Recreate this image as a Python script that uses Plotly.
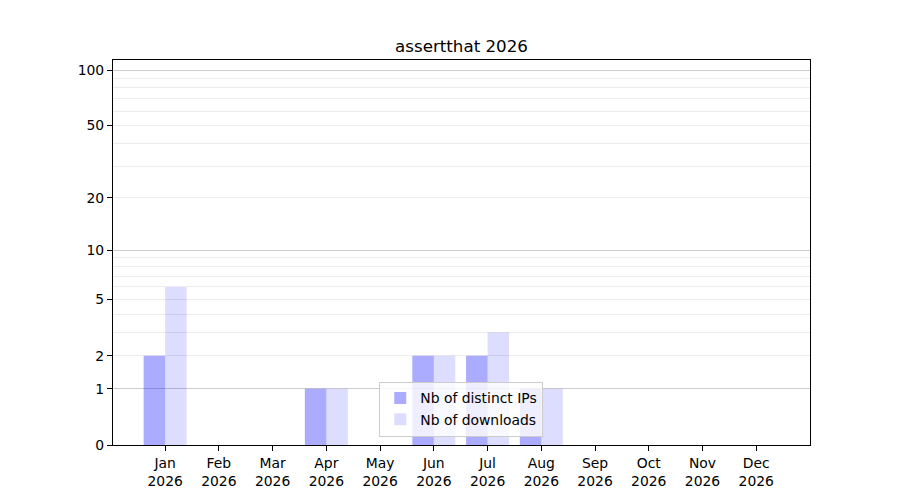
import numpy as np
import plotly.graph_objects as go

months = ["Jan", "Feb", "Mar", "Apr", "May", "Jun", "Jul", "Aug", "Sep", "Oct", "Nov", "Dec"]
year = "2026"
distinct_ips = [2, 0, 0, 1, 0, 2, 2, 1, 0, 0, 0, 0]
downloads = [6, 0, 0, 1, 0, 2, 3, 1, 0, 0, 0, 0]
y_ticks = [0, 1, 2, 5, 10, 20, 50, 100]
y_minor = [3, 4, 6, 7, 8, 9, 30, 40, 60, 70, 80, 90]
y_major_grid = [1, 10, 100]


def scale(v):
    # log(1 + x) scale, like the original y axis
    return np.log10(1 + np.asarray(v, dtype=float))


x = np.arange(len(months))
font = "DejaVu Sans"

fig = go.Figure()
fig.add_trace(go.Bar(
    x=x, y=scale(distinct_ips), width=0.4, offset=-0.4,
    name="Nb of distinct IPs", marker=dict(color="rgba(0,0,255,0.33)", line_width=0),
))
fig.add_trace(go.Bar(
    x=x, y=scale(downloads), width=0.4, offset=0,
    name="Nb of downloads", marker=dict(color="rgba(0,0,255,0.135)", line_width=0),
))
# invisible trace to carry the darker major grid on an overlaid axis
fig.add_trace(go.Scatter(x=[0], y=[0], yaxis="y2", mode="markers",
                         marker=dict(opacity=0), showlegend=False, hoverinfo="skip"))

# the page puts the plot 8px in from the top-left corner
yrange = [0, 2.058]
fig.update_layout(
    width=900, height=500,
    margin=dict(l=105, r=98, t=52, b=63),
    paper_bgcolor="white", plot_bgcolor="white",
    font=dict(family=font, size=13.9, color="black"),
    title=dict(text="assertthat " + year, x=(105 + 802) / 2 / 900, xanchor="center",
               y=1 - 38 / 500, yref="container", yanchor="middle",
               font=dict(size=16.7, color="black")),
    barmode="overlay",
    showlegend=True,
    legend=dict(x=0.382, y=0.022, xanchor="left", yanchor="bottom",
                bgcolor="rgba(255,255,255,0.8)", bordercolor="#cccccc", borderwidth=1,
                font=dict(size=13.9)),
    xaxis=dict(
        range=[-0.97, 12.0], tickmode="array", tickvals=x,
        ticktext=[m + "<br>" + year for m in months],
        showgrid=False, zeroline=False,
        showline=True, linecolor="black", linewidth=1.1, mirror=True,
        ticks="outside", ticklen=5, tickwidth=1.1, tickcolor="black",
    ),
    yaxis=dict(
        range=yrange, tickmode="array", tickvals=scale(y_ticks),
        ticktext=[str(t) for t in y_ticks],
        showgrid=True, gridcolor="#ececec", gridwidth=1, zeroline=False,
        showline=True, linecolor="black", linewidth=1.1, mirror=True,
        ticks="outside", ticklen=5, tickwidth=1.1, tickcolor="black",
        minor=dict(tickmode="array", tickvals=scale(y_minor), showgrid=True,
                   gridcolor="#ececec", gridwidth=1, ticklen=0),
    ),
    yaxis2=dict(
        overlaying="y", range=yrange, tickmode="array", tickvals=scale(y_major_grid),
        showticklabels=False, showgrid=True, gridcolor="#cccccc", gridwidth=1,
        zeroline=False, showline=False, ticks="",
    ),
)

fig.write_html("out.html")
